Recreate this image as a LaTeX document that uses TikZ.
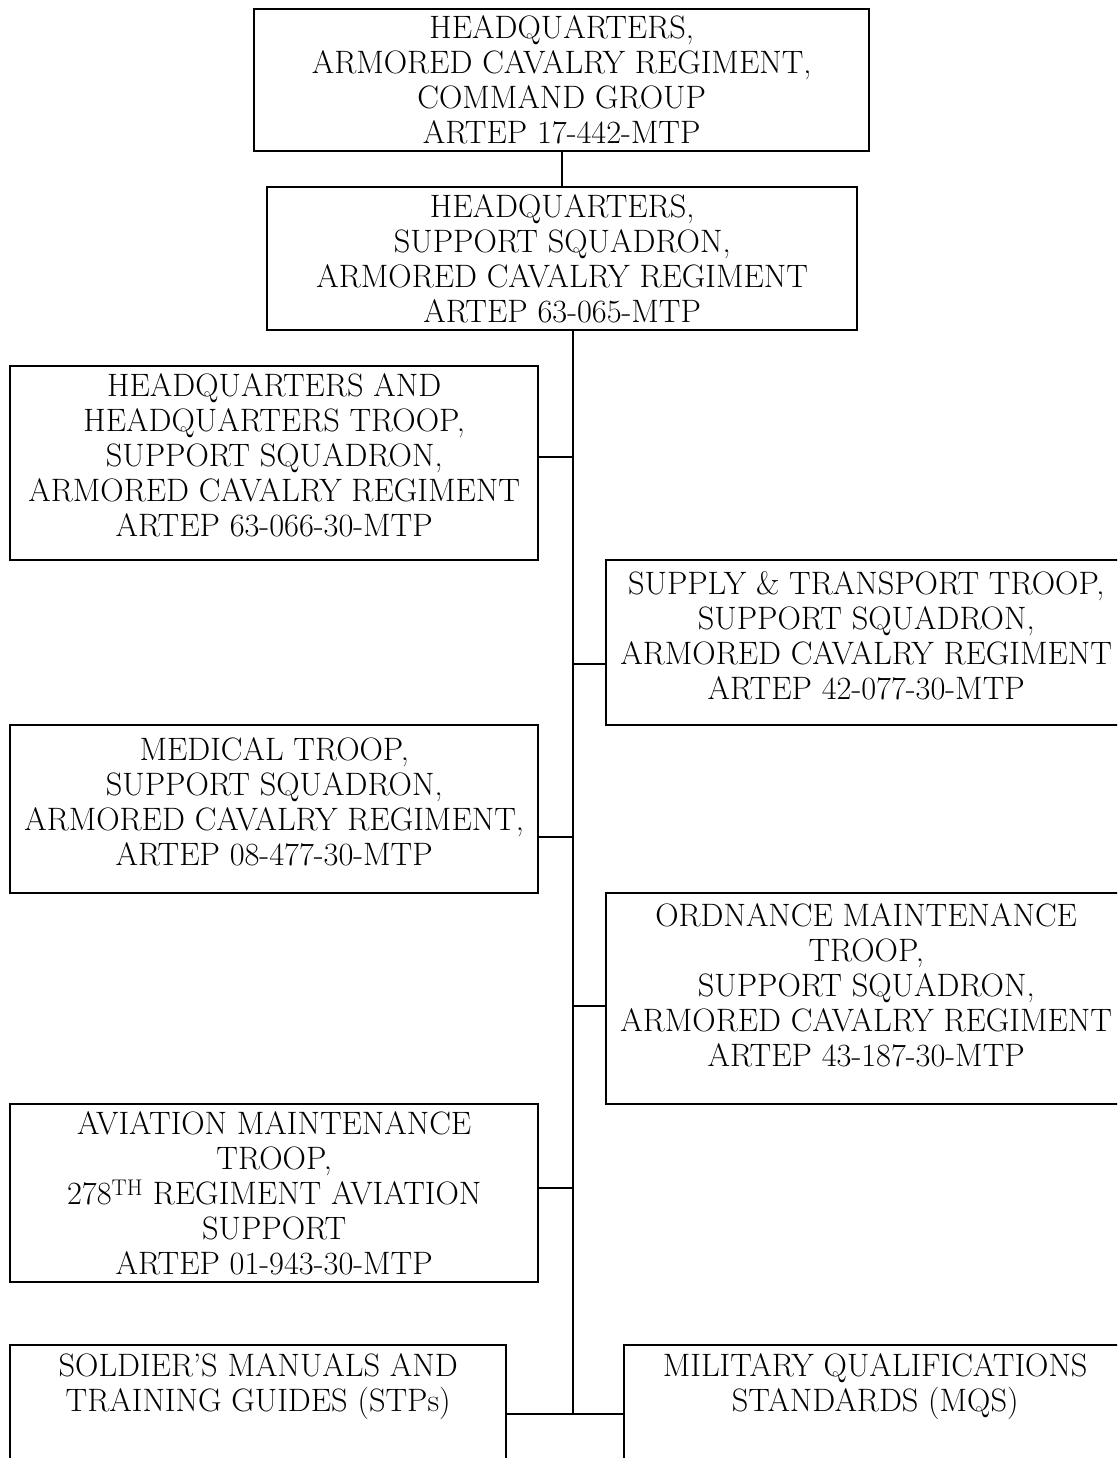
\documentclass[tikz,border=0pt]{standalone}
\usepackage{fontspec}
\tikzset{unit/.style={draw=black, line width=2.4bp, anchor=north west, inner sep=0pt, align=center, font=\fontsize{32.4bp}{35bp}\selectfont}}
\tikzset{link/.style={draw=black, line width=2.4bp}}
\tikzset{lift/.style={execute at end node={\rule[-#1]{0pt}{#1}}}}

\begin{document}
\begin{tikzpicture}[x=1bp, y=-1bp]
\useasboundingbox (0,0) rectangle (1117,1458);
\clip (0,0) rectangle (1117,1458);

% regiment and squadron headquarters
\node[unit, minimum width=615bp, minimum height=142bp] (cmd) at (253,8) {HEADQUARTERS,\\ARMORED CAVALRY REGIMENT,\\COMMAND GROUP\\ARTEP 17-442-MTP};
\node[unit, minimum width=590bp, minimum height=143bp] (sqn) at (266,186) {HEADQUARTERS,\\SUPPORT SQUADRON,\\ARMORED CAVALRY REGIMENT\\ARTEP 63-065-MTP};

% troops, left and right of the spine
\node[unit, lift=16bp, minimum width=528bp, minimum height=194bp] (hht) at (9,365) {HEADQUARTERS AND\\HEADQUARTERS TROOP,\\SUPPORT SQUADRON,\\ARMORED CAVALRY REGIMENT\\ARTEP 63-066-30-MTP};
\node[unit, lift=15bp, minimum width=520bp, minimum height=165bp] (snt) at (605,559) {SUPPLY \& TRANSPORT TROOP,\\SUPPORT SQUADRON,\\ARMORED CAVALRY REGIMENT\\ARTEP 42-077-30-MTP};
\node[unit, lift=16bp, minimum width=528bp, minimum height=168bp] (med) at (9,724) {MEDICAL TROOP,\\SUPPORT SQUADRON,\\ARMORED CAVALRY REGIMENT,\\ARTEP 08-477-30-MTP};
\node[unit, lift=28bp, minimum width=520bp, minimum height=211bp] (ord) at (605,892) {ORDNANCE MAINTENANCE\\TROOP,\\SUPPORT SQUADRON,\\ARMORED CAVALRY REGIMENT\\ARTEP 43-187-30-MTP};
\node[unit, minimum width=528bp, minimum height=178bp] (avn) at (9,1103) {AVIATION MAINTENANCE\\TROOP,\\278\textsuperscript{TH} REGIMENT AVIATION\\SUPPORT\\ARTEP 01-943-30-MTP};

% publications
\node[unit, lift=51bp, minimum width=496bp, minimum height=126bp] (stp) at (9,1344) {SOLDIER'S MANUALS AND\\TRAINING GUIDES (STPs)};
\node[unit, lift=51bp, minimum width=502bp, minimum height=126bp] (mqs) at (623,1344) {MILITARY QUALIFICATIONS\\STANDARDS (MQS)};

\coordinate (spine) at (573,1414);

\draw[link] (cmd.south) -- (cmd.south |- sqn.north);
\draw[link] (sqn.south -| spine) -- (spine);
\foreach \b/\y in {hht/457, med/837, avn/1188} {
	\draw[link] (\b.east |- 0,\y) -- (spine |- 0,\y);
}
\foreach \b/\y in {snt/664, ord/1006} {
	\draw[link] (\b.west |- 0,\y) -- (spine |- 0,\y);
}
\draw[link] (stp.east |- spine) -- (mqs.west |- spine);
\end{tikzpicture}
\end{document}
